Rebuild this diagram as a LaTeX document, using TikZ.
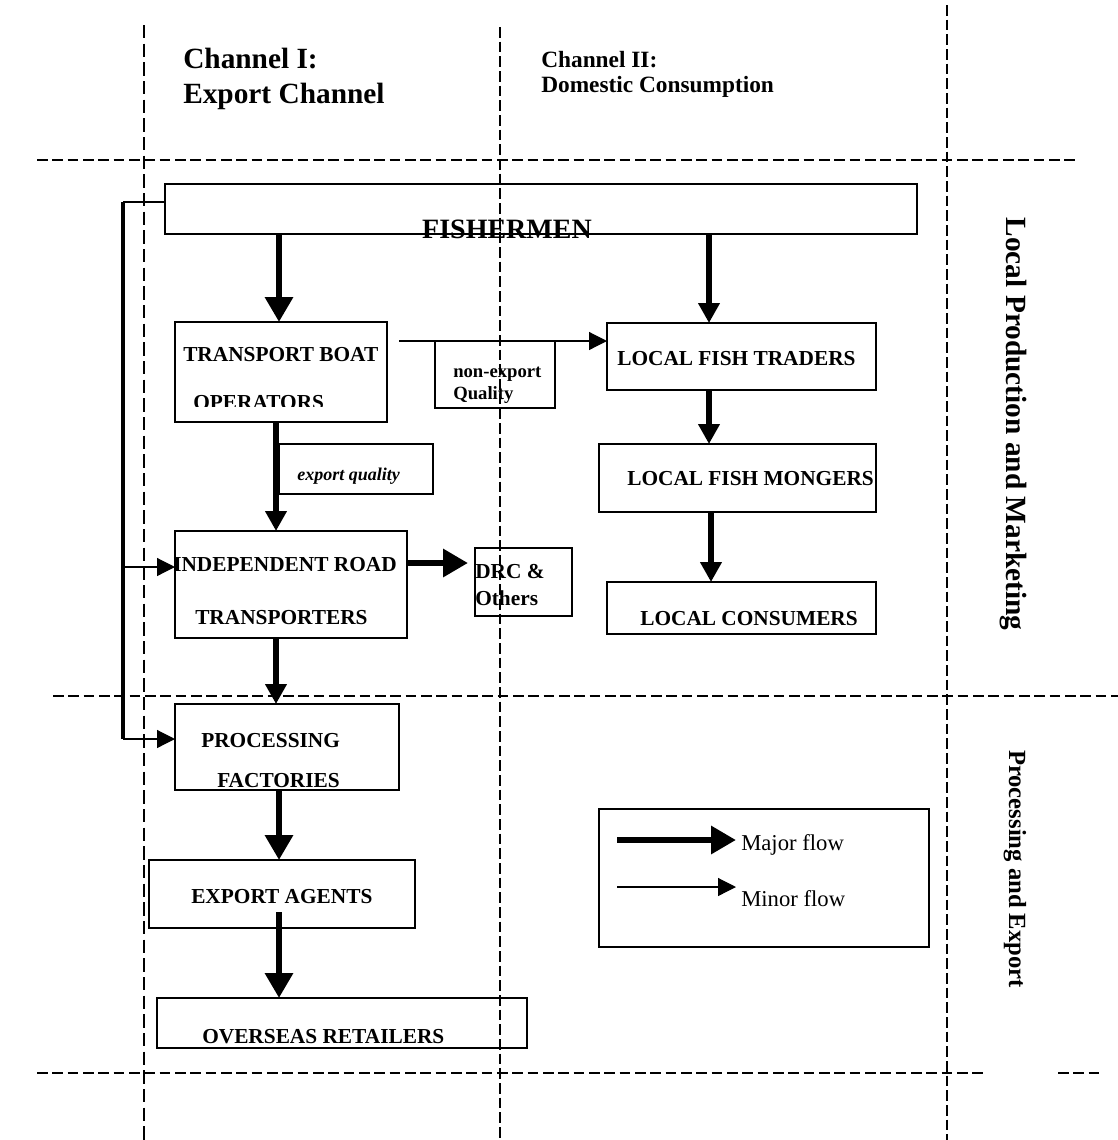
\documentclass[tikz,border=0pt]{standalone}
\usepackage{fontspec}
\setmainfont{Liberation Serif}
\usetikzlibrary{arrows.meta}
\tikzset{
  box/.style={draw, line width=0.9pt, inner sep=0pt, outer sep=0pt},
  lbl/.style={inner sep=0pt, anchor=base west, font=\bfseries\fontsize{16}{19}\selectfont},
  hgrid/.style={line width=1.6pt, dash pattern=on 8pt off 3.5pt},
  vgrid/.style={line width=1.1pt, dash pattern=on 10pt off 4pt},
  major/.style={line width=5.2pt, -{Triangle[length=18.75pt,width=20.25pt]}},
  medium/.style={line width=3.8pt, -{Triangle[length=15pt,width=15.5pt]}},
  minor/.style={line width=0.9pt, -{Triangle[length=13.5pt,width=13.5pt]}},
  feed/.style={line width=3.4pt},
}
\newcommand{\mybx}[5]{\node[box, minimum width=#4*0.75pt, minimum height=#5*0.75pt] (#1) at (#2,#3) {};}
\begin{document}
\begin{tikzpicture}[x=0.75pt,y=-0.75pt]
\useasboundingbox (0,0) rectangle (1118,1140);
% grid lines
\draw[hgrid] (37,160) -- (1078,160);
\draw[hgrid] (53,696) -- (1118,696);
\draw[hgrid] (37,1073) -- (987,1073);
\draw[hgrid] (1058,1073) -- (1100,1073);
\draw[vgrid] (144,25) -- (144,1140);
\draw[vgrid, dash pattern=on 8pt off 3pt, line width=1.3pt] (500,27) -- (500,1140);
\draw[vgrid, dash pattern=on 8pt off 3pt, line width=1.3pt] (947,5) -- (947,1140);
% headers
\node[lbl, font=\bfseries\fontsize{22}{26}\selectfont] (ch1a) at (183,68) {Channel I:};
\node[lbl, font=\bfseries\fontsize{22}{26}\selectfont] (ch1b) at (183,103) {Export Channel};
\node[lbl, font=\bfseries\fontsize{17.5}{20}\selectfont] (ch2a) at (541,67) {Channel II:};
\node[lbl, font=\bfseries\fontsize{17.5}{20}\selectfont] (ch2b) at (541,92) {Domestic Consumption};
\node[inner sep=0pt, rotate=-90, font=\bfseries\fontsize{22}{26}\selectfont] (side1) at (1013,424) {Local Production and Marketing};
\node[inner sep=0pt, rotate=-90, font=\bfseries\fontsize{18.5}{22}\selectfont] (side2) at (1015,869) {Processing and Export};
% boxes
\mybx{fish}{541}{209}{752}{50}
\mybx{tbo}{281}{372}{212}{100}
\mybx{nonexp}{495}{374.5}{120}{67}
\mybx{lft}{741.5}{356.5}{269}{67}
\mybx{expq}{356}{469}{154}{50}
\mybx{lfm}{737.5}{478}{277}{68}
\mybx{irt}{291}{584.5}{232}{107}
\mybx{drc}{523.5}{582}{97}{68}
\mybx{lc}{741.5}{608}{269}{52}
\mybx{pf}{287}{747}{224}{86}
\mybx{ea}{282}{894}{266}{68}
\mybx{or}{342}{1023}{370}{50}
% box texts
\node[inner sep=0pt, anchor=base, font=\bfseries\fontsize{21}{24}\selectfont] (fisht) at (507,238) {FISHERMEN};
\node[lbl] (tbot1) at (183,361) {TRANSPORT BOAT};
\begin{scope}
\clip (150,380) rectangle (400,406);
\node[lbl] (tbot2) at (193,409) {OPERATORS};
\end{scope}
\node[lbl, font=\bfseries\fontsize{14}{16}\selectfont] (net1) at (453,377) {non-export};
\node[lbl, font=\bfseries\fontsize{14}{16}\selectfont] (net2) at (453,399) {Quality};
\node[lbl] (lftt) at (617,365) {LOCAL FISH TRADERS};
\node[lbl, font=\bfseries\itshape\fontsize{13.5}{16}\selectfont] (expqt) at (297,480) {export quality};
\node[lbl] (lfmt) at (627,485) {LOCAL FISH MONGERS};
\node[lbl] (irtt1) at (173,571) {INDEPENDENT ROAD};
\node[lbl] (irtt2) at (195,624) {TRANSPORTERS};
\node[lbl] (drct1) at (475,578) {DRC \&};
\node[lbl] (drct2) at (475,605) {Others};
\node[lbl] (lct) at (640,625) {LOCAL CONSUMERS};
\node[lbl] (pft1) at (201,747) {PROCESSING};
\node[lbl] (pft2) at (217,787) {FACTORIES};
\node[lbl] (eat) at (191,903) {EXPORT AGENTS};
\node[lbl] (ort) at (202,1043) {OVERSEAS RETAILERS};
% helper coordinates
\coordinate (xA) at (279,0);
\coordinate (xB) at (276,0);
\coordinate (xC) at (709,0);
\coordinate (xD) at (711,0);
\coordinate (xL) at (123,0);
\coordinate (yF) at (0,202);
\coordinate (yI) at (0,567);
\coordinate (yP) at (0,739);
\coordinate (yD) at (0,563);
\coordinate (nstart) at (399,341);
\coordinate (drcin) at (468,563);
\coordinate (eastart) at (279,912);
% connectors
\draw[major] (fish.south -| xA) -- (tbo.north -| xA);
\draw[medium] (fish.south -| xC) -- (lft.north -| xC);
\draw[medium] (lft.south -| xC) -- (lfm.north -| xC);
\draw[medium] (lfm.south -| xD) -- (lc.north -| xD);
\draw[minor] (nstart) -- (lft.west |- nstart);
\draw[medium] (tbo.south -| xB) -- (irt.north -| xB);
\draw[major] (irt.east |- yD) -- (drcin);
\draw[medium] (irt.south -| xB) -- (pf.north -| xB);
\draw[major] (pf.south -| xA) -- (ea.north -| xA);
\draw[major] (eastart) -- (or.north -| xA);
% feedback line
\draw[line width=0.9pt] (fish.west |- yF) -- (xL |- yF);
\draw[feed] (xL |- yF) -- (xL |- yP);
\draw[minor] (xL |- yI) -- (irt.west |- yI);
\draw[minor] (xL |- yP) -- (pf.west |- yP);
% legend
\node[draw, line width=2.2pt, inner sep=0pt, minimum width=330*0.75pt, minimum height=138*0.75pt] (leg) at (764,878) {};
\coordinate (lma) at (617,840);
\coordinate (lmb) at (736,840);
\coordinate (lna) at (617,887);
\coordinate (lnb) at (736,887);
\draw[major] (lma) -- (lmb);
\draw[minor] (lna) -- (lnb);
\node[lbl, font=\fontsize{17}{20}\selectfont] (legt1) at (741,850) {Major flow};
\node[lbl, font=\fontsize{17}{20}\selectfont] (legt2) at (741,906) {Minor flow};
\end{tikzpicture}
\end{document}
